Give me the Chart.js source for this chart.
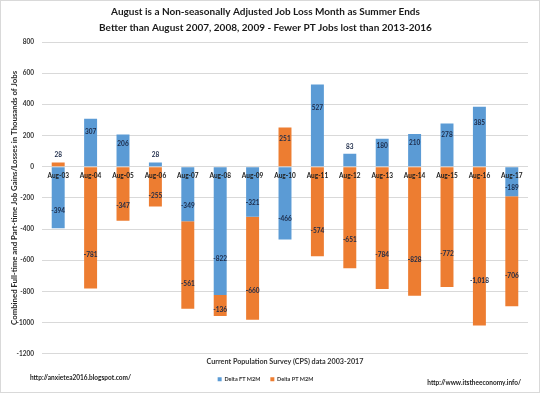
<!DOCTYPE html>
<html>
<head>
<meta charset="utf-8">
<script src="https://cdn.jsdelivr.net/npm/chart.js@4.4.1/dist/chart.umd.min.js"></script>
<style>
  html, body { margin: 0; padding: 0; background: #fff; }
  .frame { width: 540px; height: 393px; box-sizing: border-box; border: 1px solid #d9d9d9; }
  canvas { display: block; }
</style>
</head>
<body>
<div class="frame"><canvas id="jobsChart" width="538" height="391"></canvas></div>
<script>
const months = ['Aug-03', 'Aug-04', 'Aug-05', 'Aug-06', 'Aug-07', 'Aug-08', 'Aug-09', 'Aug-10',
  'Aug-11', 'Aug-12', 'Aug-13', 'Aug-14', 'Aug-15', 'Aug-16', 'Aug-17'];
const ftDelta = [-394, 307, 206, 28, -349, -822, -321, -466, 527, 83, 180, 210, 278, 385, -189];
const ptDelta = [28, -781, -347, -255, -561, -136, -660, 251, -574, -651, -784, -828, -772, -1018, -706];
const yMin = -1200, yMax = 800, yStep = 200;

const FONT = 'Lato, "Open Sans", sans-serif';

// value labels on each bar piece, small ones sit above the bar
const barLabels = {
  id: 'barLabels',
  afterDatasetsDraw(chart) {
    const ctx = chart.ctx;
    ctx.save();
    ctx.font = `bold 6.5px ${FONT}`;
    ctx.textAlign = 'center';
    ctx.textBaseline = 'middle';
    ctx.fillStyle = '#1c2a48';
    chart.data.datasets.forEach((ds, i) => {
      chart.getDatasetMeta(i).data.forEach((bar, j) => {
        const v = ds.data[j];
        const ly = Math.abs(v) < 100 ? Math.min(bar.y, bar.base) - 7 : bar.base + (bar.y - bar.base) * 0.72;
        ctx.fillText(v.toLocaleString('en-US'), bar.x, ly);
      });
    });
    ctx.restore();
  }
};

const footerText = {
  id: 'footerText',
  afterDraw(chart) {
    const ctx = chart.ctx;
    ctx.save();
    ctx.font = `bold 6.5px ${FONT}`;
    ctx.fillStyle = '#222';
    ctx.textBaseline = 'middle';
    ctx.textAlign = 'left';
    ctx.fillText('http://anxietea2016.blogspot.com/', 29, 377);
    ctx.textAlign = 'right';
    ctx.fillText('http://www.itstheeconomy.info/', 520, 382);
    ctx.restore();
  }
};

new Chart(document.getElementById('jobsChart').getContext('2d'), {
  type: 'bar',
  data: {
    labels: months,
    datasets: [
      { label: 'Delta FT M2M', data: ftDelta, backgroundColor: '#5b9bd5' },
      { label: 'Delta PT M2M', data: ptDelta, backgroundColor: '#ed7d31' }
    ]
  },
  options: {
    responsive: false,
    animation: false,
    layout: { padding: { left: 2, right: 11, top: 0, bottom: 0 } },
    datasets: { bar: { barPercentage: 0.4, categoryPercentage: 1 } },
    plugins: {
      title: {
        display: true,
        text: ['August is a Non-seasonally Adjusted Job Loss Month as Summer Ends',
          'Better than August 2007, 2008, 2009 - Fewer PT Jobs lost than 2013-2016'],
        font: { family: FONT, size: 10, weight: 'bold', lineHeight: 1.6 },
        color: '#1a1a1a',
        padding: { top: 3, bottom: 6 }
      },
      legend: {
        position: 'bottom',
        labels: { boxWidth: 4, boxHeight: 4, padding: 10, color: '#333', font: { family: FONT, size: 5.5, weight: 'bold' } }
      },
      tooltip: { enabled: false }
    },
    scales: {
      x: {
        stacked: true,
        position: { y: 0 },
        grid: { display: false, drawTicks: false },
        border: { display: false },
        ticks: { z: 1, autoSkip: false, maxRotation: 0, padding: 5, color: '#222', font: { family: FONT, size: 6.5, weight: 'bold' } }
      },
      x2: {
        type: 'category',
        position: 'bottom',
        grid: { display: false, drawTicks: false },
        border: { display: false },
        ticks: { display: false },
        title: {
          display: true,
          text: 'Current Population Survey (CPS) data 2003-2017',
          color: '#333',
          padding: { top: 3, bottom: 1 },
          font: { family: FONT, size: 7.2, weight: 'bold' }
        }
      },
      y: {
        stacked: true,
        min: yMin,
        max: yMax,
        afterFit(scale) { scale.width = 39; },
        grid: { color: '#d9d9d9', drawTicks: false },
        border: { display: false },
        ticks: { stepSize: yStep, padding: 8, color: '#333', font: { family: FONT, size: 6.5, weight: 'bold' }, callback: v => v },
        title: {
          display: true,
          text: 'Combined Full-time and Part-time Job Gains/Losses in Thousands of Jobs',
          color: '#262626',
          padding: { top: 7, bottom: 0 },
          font: { family: FONT, size: 7.8, weight: 'bold' }
        }
      }
    }
  },
  plugins: [barLabels, footerText]
});
</script>
</body>
</html>
